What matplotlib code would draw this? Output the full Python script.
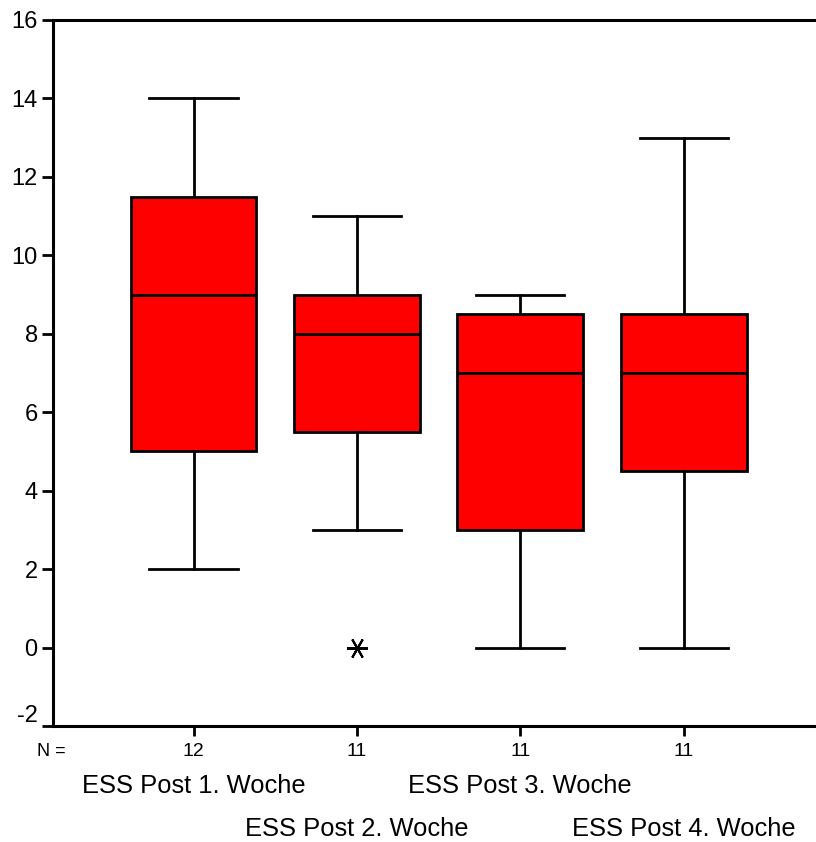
import matplotlib
matplotlib.use('Agg')
import matplotlib.pyplot as plt
import matplotlib.transforms as mtransforms

plt.rcParams['font.family'] = ['Liberation Sans', 'DejaVu Sans']

# Kennwerte je Messzeitpunkt
labels = ['ESS Post 1. Woche', 'ESS Post 2. Woche', 'ESS Post 3. Woche', 'ESS Post 4. Woche']
n_counts = [12, 11, 11, 11]
whislo = [2, 3, 0, 0]
q1 = [5, 5.5, 3, 4.5]
med = [9, 8, 7, 7]
q3 = [11.5, 9, 8.5, 8.5]
whishi = [14, 11, 9, 13]
fliers = [[], [0], [], []]

stats = []
for i in range(len(labels)):
    stats.append({'whislo': whislo[i], 'q1': q1[i], 'med': med[i], 'q3': q3[i],
                  'whishi': whishi[i], 'fliers': fliers[i], 'label': labels[i]})

fig = plt.figure(figsize=(8.16, 8.42), dpi=100)
ax = fig.add_axes([53/816, 1-726/842, 1-53/816+0.01, (726-20)/842])

pos = [1, 2, 3, 4]
ax.bxp(stats, positions=pos, widths=0.77, patch_artist=True, capwidths=0.54,
       boxprops=dict(facecolor='#ff0000', edgecolor='black', linewidth=2),
       medianprops=dict(color='black', linewidth=2),
       whiskerprops=dict(color='black', linewidth=2),
       capprops=dict(color='black', linewidth=2),
       flierprops=dict(marker=(6, 2, 30), markersize=15, markeredgecolor='black',
                       markeredgewidth=1.5, linestyle='none'))

ax.set_xlim(0.14, 4.86)
ax.set_ylim(-2, 16)
ax.set_yticks(range(-2, 17, 2))
ax.set_yticklabels([str(v) for v in range(-2, 17, 2)], fontsize=17)
ax.set_xticks(pos)
ax.set_xticklabels([])
ax.tick_params(axis='y', direction='out', length=8, width=2, pad=3)
ax.tick_params(axis='x', direction='out', length=7, width=2)
for s in ['left', 'top', 'bottom']:
    ax.spines[s].set_linewidth(2.2)
ax.spines['right'].set_visible(False)

# unterste Beschriftung etwas nach oben
lbl = ax.get_yticklabels()[0]
lbl.set_transform(lbl.get_transform() + mtransforms.ScaledTranslation(0, 12/100, fig.dpi_scale_trans))

# N-Zeile und versetzte Beschriftung unter der Achse
trans = mtransforms.blended_transform_factory(ax.transData, fig.transFigure)
fig.text(51/816, 1-752/842, 'N =', fontsize=13, ha='center', va='center')
for i, p in enumerate(pos):
    ax.text(p, 1-752/842, str(n_counts[i]), transform=trans, fontsize=14,
            ha='center', va='center')
    y = 1-786/842 if i % 2 == 0 else 1-829/842
    ax.text(p, y, labels[i], transform=trans, fontsize=18.4, ha='center', va='center')

fig.savefig('out.png', dpi=100)
